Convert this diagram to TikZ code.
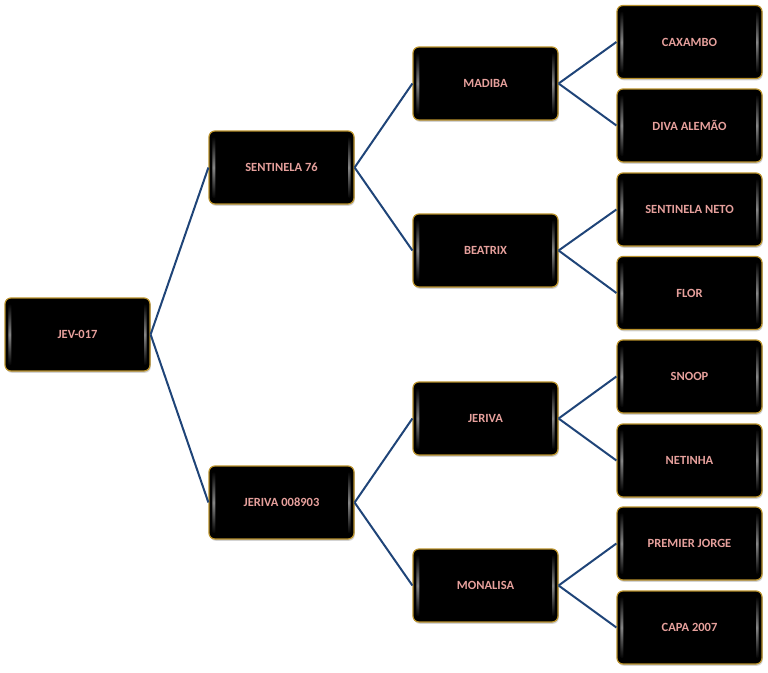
\documentclass[tikz,border=0pt]{standalone}
\usepackage{fontspec}
\setmainfont{Carlito}
\usetikzlibrary{shadows,fadings}
\definecolor{boxborder}{HTML}{B8902A}
\definecolor{txt}{HTML}{E6A09C}
\definecolor{link}{HTML}{1F4478}
\tikzfading[name=vfade, top color=transparent!100, bottom color=transparent!100, middle color=transparent!30]
\tikzset{
  x=1pt,y=-1pt,
  pbox/.style={draw=boxborder,line width=1.2pt,fill=black,rounded corners=6pt,
    minimum width=145pt,minimum height=73pt,inner sep=0pt,
    font=\bfseries\fontsize{12.5}{14}\selectfont,text=txt,
    drop shadow={shadow xshift=0.8pt,shadow yshift=-1.8pt,opacity=0.35}},
  conn/.style={draw=link,line width=2pt}
}
\newcommand{\gloss}[1]{%
  \fill[white!75!black,path fading=vfade,rounded corners=1.5pt] ([xshift=4pt,yshift=-6pt]#1.north west) rectangle ([xshift=7pt,yshift=6pt]#1.south west);
  \fill[white!75!black,path fading=vfade,rounded corners=1.5pt] ([xshift=-4pt,yshift=-6pt]#1.north east) rectangle ([xshift=-6.5pt,yshift=6pt]#1.south east);
}
\begin{document}
\begin{tikzpicture}
\useasboundingbox (0,0) rectangle (768,672);
\node[pbox] (a) at (77.5,334.5) {JEV-017};
\node[pbox] (b1) at (281.5,167.5) {SENTINELA 76};
\node[pbox] (b2) at (281.5,502.5) {JERIVA 008903};
\node[pbox] (c1) at (485.5,83.5) {MADIBA};
\node[pbox] (c2) at (485.5,250.5) {BEATRIX};
\node[pbox] (c3) at (485.5,418.5) {JERIVA};
\node[pbox] (c4) at (485.5,585.5) {MONALISA};
\node[pbox] (d1) at (689.5,42) {CAXAMBO};
\node[pbox] (d2) at (689.5,125.5) {DIVA ALEMÃO};
\node[pbox] (d3) at (689.5,209.5) {SENTINELA NETO};
\node[pbox] (d4) at (689.5,293) {FLOR};
\node[pbox] (d5) at (689.5,376.5) {SNOOP};
\node[pbox] (d6) at (689.5,460.5) {NETINHA};
\node[pbox] (d7) at (689.5,543.5) {PREMIER JORGE};
\node[pbox] (d8) at (689.5,627.5) {CAPA 2007};
\foreach \n in {a,b1,b2,c1,c2,c3,c4,d1,d2,d3,d4,d5,d6,d7,d8}{\gloss{\n}}
\draw[conn] (a.east) -- (b1.west);
\draw[conn] (a.east) -- (b2.west);
\draw[conn] (b1.east) -- (c1.west);
\draw[conn] (b1.east) -- (c2.west);
\draw[conn] (b2.east) -- (c3.west);
\draw[conn] (b2.east) -- (c4.west);
\draw[conn] (c1.east) -- (d1.west);
\draw[conn] (c1.east) -- (d2.west);
\draw[conn] (c2.east) -- (d3.west);
\draw[conn] (c2.east) -- (d4.west);
\draw[conn] (c3.east) -- (d5.west);
\draw[conn] (c3.east) -- (d6.west);
\draw[conn] (c4.east) -- (d7.west);
\draw[conn] (c4.east) -- (d8.west);
\end{tikzpicture}
\end{document}
